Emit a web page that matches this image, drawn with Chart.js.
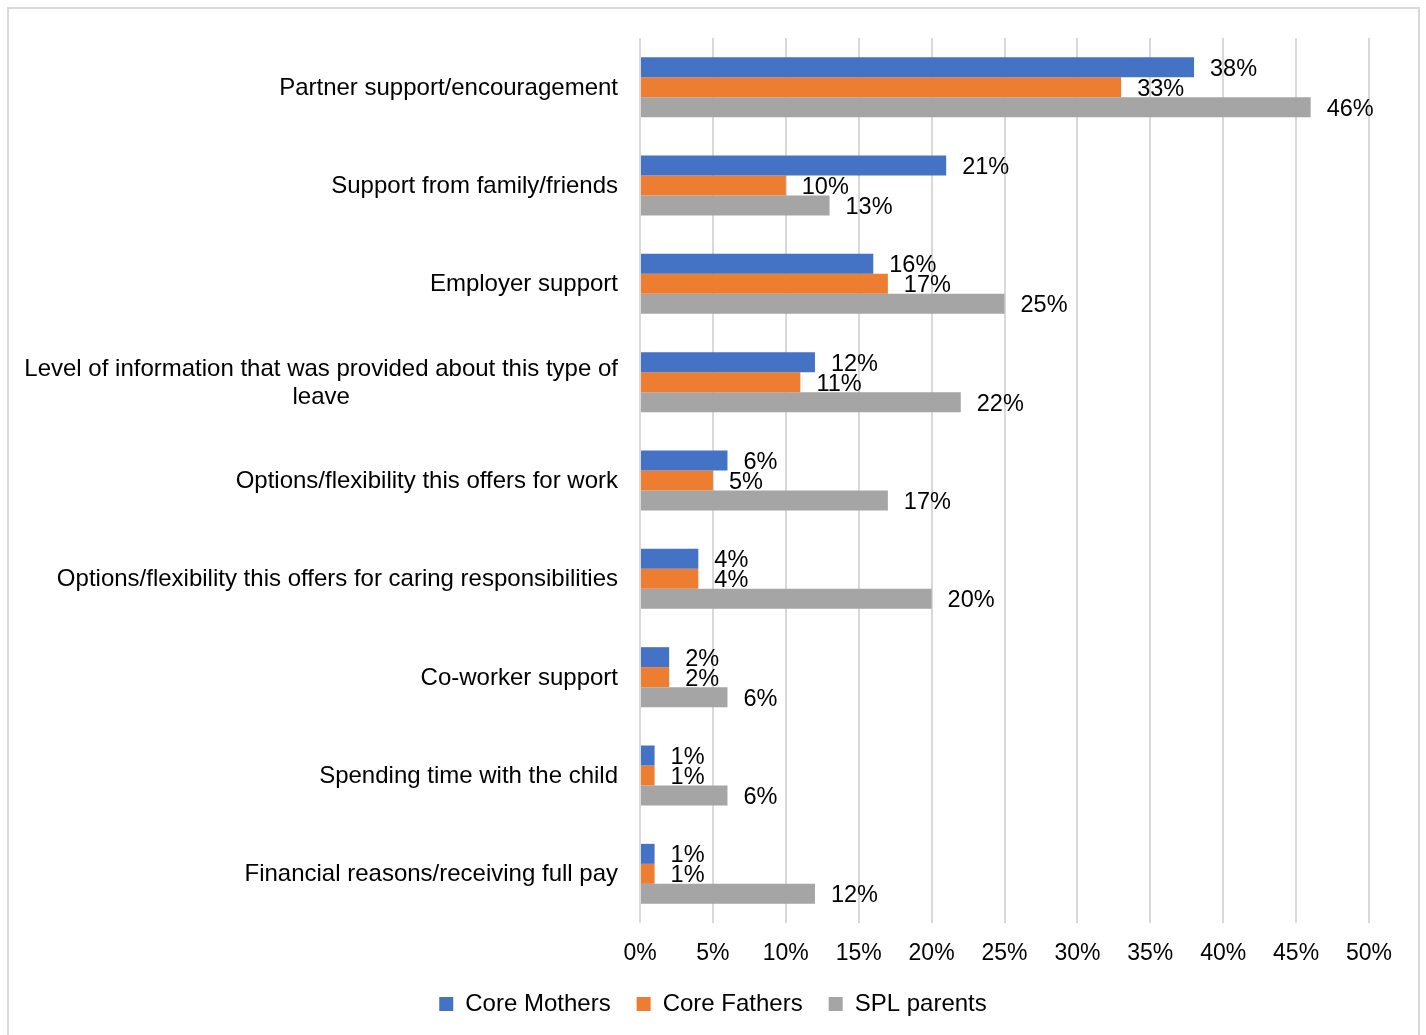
<!DOCTYPE html>
<html>
<head>
<meta charset="utf-8">
<title>Factors influencing leave</title>
<script src="https://cdn.jsdelivr.net/npm/chart.js@4.4.0/dist/chart.umd.min.js"></script>
<style>
    html, body { margin: 0; padding: 0; background: #ffffff; overflow: hidden; }
    #leave-factors-chart { display: block; }
</style>
</head>
<body>
<canvas id="leave-factors-chart" width="1426" height="1035"></canvas>
<script>
// Category labels (multi-line entries are arrays)
const categories = [
    'Partner support/encouragement',
    'Support from family/friends',
    'Employer support',
    ['Level of information that was provided about this type of', 'leave'],
    'Options/flexibility this offers for work',
    'Options/flexibility this offers for caring responsibilities',
    'Co-worker support',
    'Spending time with the child',
    'Financial reasons/receiving full pay'
];

// Percentages per group
const coreMothers = [38, 21, 16, 12, 6, 4, 2, 1, 1];
const coreFathers = [33, 10, 17, 11, 5, 4, 2, 1, 1];
const splParents = [46, 13, 25, 22, 17, 20, 6, 6, 12];

// Axis ticks
const axisMin = 0;
const axisMax = 50;
const axisStep = 5;

const FONT = '"Liberation Sans", Arial, sans-serif';
Chart.defaults.font.family = FONT;
Chart.defaults.color = '#000000';

// Light grey frame around the whole chart
const framePlugin = {
    id: 'frame',
    beforeDraw(chart) {
        const ctx = chart.ctx;
        ctx.save();
        ctx.fillStyle = '#ffffff';
        ctx.fillRect(0, 0, chart.width, chart.height);
        ctx.strokeStyle = '#d9d9d9';
        ctx.lineWidth = 2;
        ctx.strokeRect(8, 8, 1411, chart.height + 40);
        ctx.restore();
    }
};

// Category labels: block right-aligned to the axis, lines centred within the block
const categoryLabelPlugin = {
    id: 'categoryLabels',
    afterDraw(chart) {
        const ctx = chart.ctx;
        const yScale = chart.scales.y;
        const right = yScale.right - 22;
        const lineHeight = 28;
        ctx.save();
        ctx.font = '24px ' + FONT;
        ctx.fillStyle = '#000000';
        ctx.textBaseline = 'middle';
        ctx.textAlign = 'center';
        categories.forEach((label, i) => {
            const lines = Array.isArray(label) ? label : [label];
            const blockWidth = Math.max(...lines.map(l => ctx.measureText(l).width));
            const cx = right - blockWidth / 2;
            const cy = yScale.getPixelForValue(i) + 1;
            lines.forEach((line, j) => {
                const y = cy + (j - (lines.length - 1) / 2) * lineHeight;
                ctx.fillText(line, cx, y);
            });
        });
        ctx.restore();
    }
};

// Value labels just past the end of each bar
const valueLabelPlugin = {
    id: 'valueLabels',
    afterDatasetsDraw(chart) {
        const ctx = chart.ctx;
        ctx.save();
        ctx.font = '23.5px ' + FONT;
        ctx.fillStyle = '#000000';
        ctx.textBaseline = 'middle';
        ctx.textAlign = 'left';
        chart.data.datasets.forEach((dataset, di) => {
            const meta = chart.getDatasetMeta(di);
            meta.data.forEach((bar, i) => {
                ctx.fillText(dataset.data[i] + '%', bar.x + 16, bar.y + 2);
            });
        });
        ctx.restore();
    }
};

const ctx = document.getElementById('leave-factors-chart').getContext('2d');

const chart = new Chart(ctx, {
    type: 'bar',
    data: {
        labels: categories,
        datasets: [{
            label: 'Core Mothers',
            data: coreMothers,
            backgroundColor: '#4472C4'
        }, {
            label: 'Core Fathers',
            data: coreFathers,
            backgroundColor: '#ED7D31'
        }, {
            label: 'SPL parents',
            data: splParents,
            backgroundColor: '#A5A5A5'
        }]
    },
    options: {
        indexAxis: 'y',
        responsive: false,
        animation: false,
        categoryPercentage: 0.61,
        barPercentage: 1.0,
        layout: {
            padding: { top: 38, right: 0, bottom: 9, left: 0 }
        },
        scales: {
            x: {
                min: axisMin,
                max: axisMax,
                ticks: {
                    stepSize: axisStep,
                    padding: 17,
                    font: { size: 23 },
                    color: '#000000',
                    callback: value => value + '%'
                },
                grid: {
                    color: '#d9d9d9',
                    lineWidth: 2,
                    drawTicks: false
                },
                border: { display: false },
                afterFit(scale) {
                    scale.height = 43;
                    // keep the plot area clear of the right edge
                    scale.paddingRight = 57;
                }
            },
            y: {
                ticks: { display: false },
                grid: { display: false },
                border: { display: false },
                afterFit(scale) {
                    scale.width = 640;
                }
            }
        },
        plugins: {
            legend: {
                position: 'bottom',
                labels: {
                    boxWidth: 14,
                    boxHeight: 14,
                    padding: 26,
                    color: '#000000',
                    font: { size: 24 }
                }
            },
            tooltip: { enabled: false }
        }
    },
    plugins: [framePlugin, categoryLabelPlugin, valueLabelPlugin]
});
</script>
</body>
</html>
